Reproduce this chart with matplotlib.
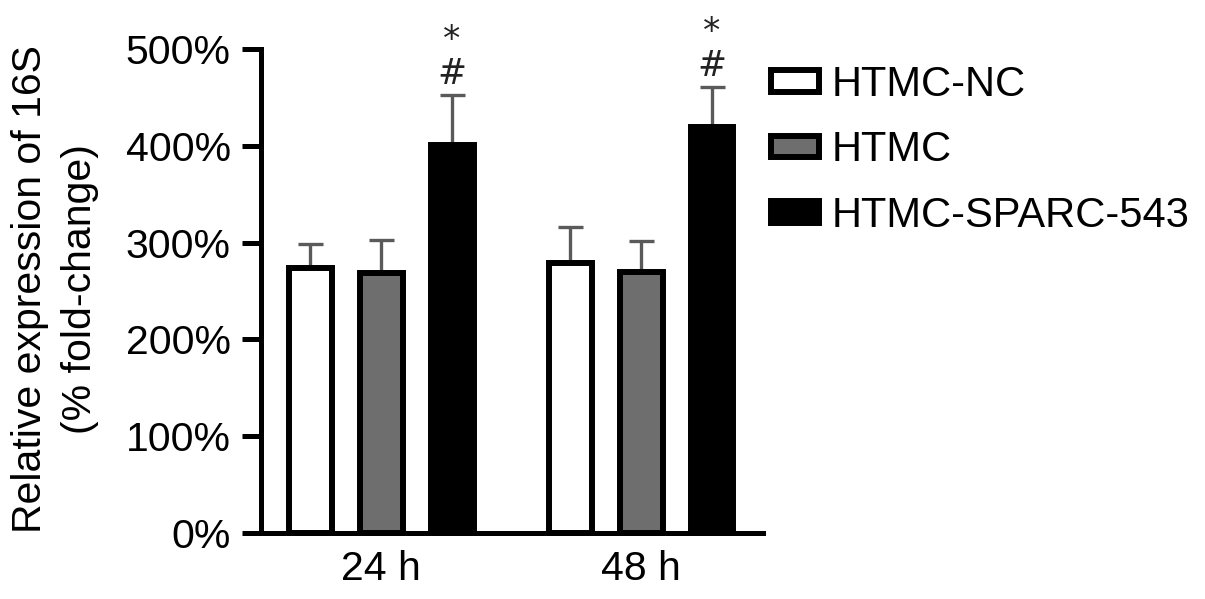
import matplotlib
matplotlib.use('Agg')
import matplotlib.pyplot as plt
from matplotlib import font_manager
import numpy as np

# Data
GROUPS = ['24 h', '48 h']
SERIES = ['HTMC-NC', 'HTMC', 'HTMC-SPARC-543']
MEANS = {
    'HTMC-NC': [274, 279],
    'HTMC': [269, 270],
    'HTMC-SPARC-543': [401, 419],
}
ERRORS = {
    'HTMC-NC': [25, 37],
    'HTMC': [34, 32],
    'HTMC-SPARC-543': [51, 42],
}
# significance marks above the HTMC-SPARC-543 bars (top to bottom)
MARKS = ['*', '#']
YTICKS = [0, 100, 200, 300, 400, 500]

COLORS = {'HTMC-NC': 'white', 'HTMC': '#6e6e6e', 'HTMC-SPARC-543': 'black'}

names = {f.name for f in font_manager.fontManager.ttflist}
base_font = 'Liberation Sans' if 'Liberation Sans' in names else 'DejaVu Sans'
plt.rcParams['font.family'] = [base_font, 'DejaVu Sans']

W, H = 1205, 599
fig = plt.figure(figsize=(W / 100, H / 100), dpi=100)
ax = fig.add_axes([261 / W, 1 - 533 / H, (763 - 261) / W, (533 - 49) / H])

x = np.arange(len(GROUPS))
offset = 0.273
width = 0.165

for i, name in enumerate(SERIES):
    pos = x + (i - 1) * offset
    ax.bar(pos, MEANS[name], width, color=COLORS[name], edgecolor='black',
           linewidth=4.3, label=name, zorder=2)
    err = ERRORS[name]
    ax.errorbar(pos, MEANS[name], yerr=[np.zeros(len(err)), err], fmt='none',
                ecolor='#5a5a5a', elinewidth=2.4, capsize=9, capthick=2.4, zorder=1)

# significance marks, stacked in one text
last = SERIES[-1]
for j in range(len(GROUPS)):
    px = x[j] + offset
    top = MEANS[last][j] + ERRORS[last][j]
    ax.annotate('\n'.join(MARKS), (px, top), xytext=(0, 8), textcoords='offset points',
                ha='center', va='baseline', multialignment='center', linespacing=1.0,
                fontsize=25, family='DejaVu Sans', color='#222222',
                annotation_clip=False)

ax.set_xlim(-0.462, 1.469)
ax.set_ylim(0, 500)
ax.set_yticks(YTICKS)
ax.set_yticklabels([f'{v}%' for v in YTICKS])
ax.set_xticks(x)
ax.set_xticklabels(GROUPS)

for side in ['top', 'right']:
    ax.spines[side].set_visible(False)
for side in ['left', 'bottom']:
    ax.spines[side].set_linewidth(3.6)
ax.tick_params(axis='y', length=13.7, width=3.6, pad=8, labelsize=29.5)
ax.tick_params(axis='x', length=0, pad=12, labelsize=29.5)

fig.text(30 / W, 1 - 289 / H, 'Relative expression of 16S', rotation=90,
         ha='center', va='center', fontsize=29.5)
fig.text(80 / W, 1 - 289 / H, '(% fold-change)', rotation=90,
         ha='center', va='center', fontsize=29.5)

ax.legend(loc='upper left', bbox_to_anchor=(771 / W, 1 - 65 / H),
          bbox_transform=fig.transFigure, frameon=False, borderpad=0,
          borderaxespad=0, handlelength=1.15, handleheight=0.41,
          handletextpad=0.3, labelspacing=0.61,
          prop={'family': base_font, 'size': 30})

fig.savefig('out.png', dpi=100)
